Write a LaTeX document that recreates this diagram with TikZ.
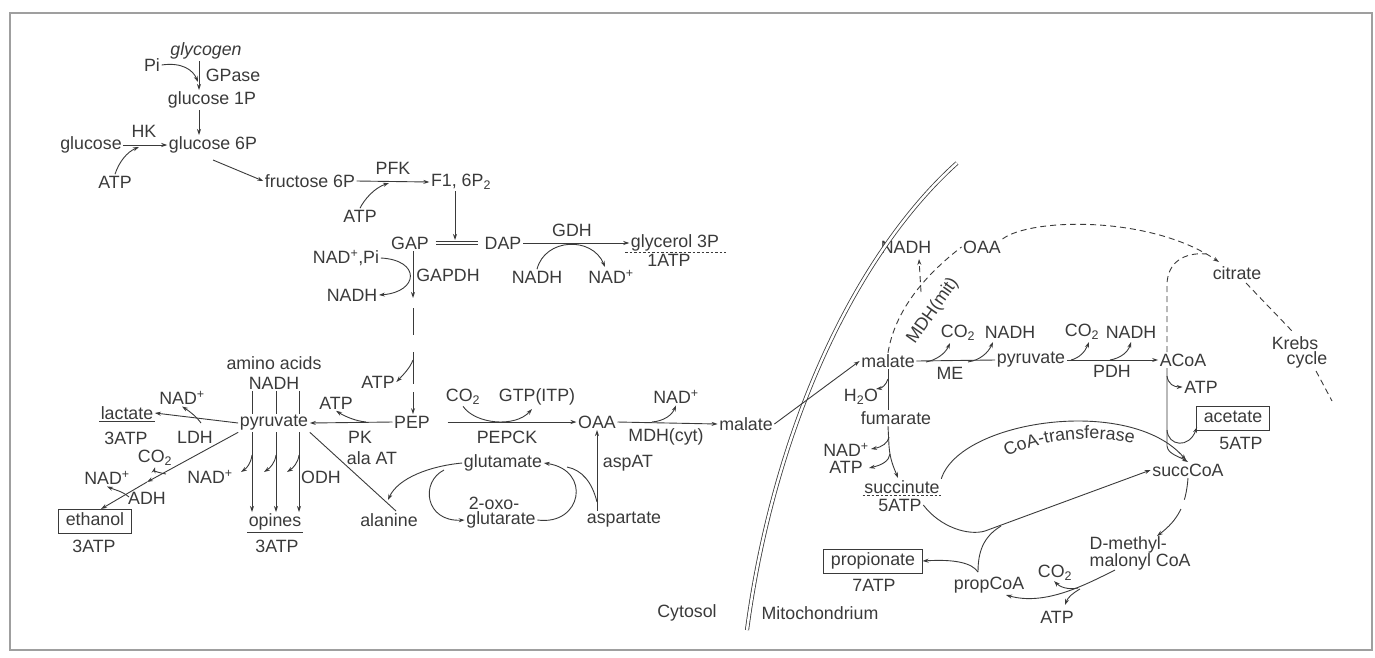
\documentclass[tikz,border=0pt]{standalone}
\usepackage{fontspec}
\setmainfont{Liberation Sans}
\usetikzlibrary{arrows.meta,decorations.text}
\definecolor{ink}{HTML}{3A3A3A}
\newcommand{\lbfont}{\fontsize{17.8}{19.5}\selectfont}

\begin{document}
\begin{tikzpicture}[x=1pt,y=-1pt,
  every node/.style={font=\lbfont, text=ink, inner sep=1.5pt},
  line/.style={draw=ink, line width=0.9pt},
  arr/.style={line, -{Stealth[length=6pt,width=4pt]}},
  dsh/.style={line, dash pattern=on 6pt off 4pt},
  dotrule/.style={draw=ink, line width=0.8pt, dash pattern=on 2.5pt off 2pt},
  box/.style={draw=ink, line width=1pt, inner xsep=7pt, inner ysep=4pt, text height=12pt, text depth=4pt},
  memb/.style={draw=ink, line width=0.8pt, double=white, double distance=2.5pt}]

\useasboundingbox (0,0) rectangle (1375,657);
\draw[draw=gray!75, line width=1.4pt] (10,13) rectangle (1372,650);

% ---------- glycolysis ----------
\node (glycogen) at (206,51) {\itshape glycogen};
\node (Pi) at (152,65) {Pi};
\node (GPase) at (233,75) {GPase};
\node (g1p) at (212,100) {glucose 1P};
\node (g6p) at (213,145) {glucose 6P};
\node (glc) at (91,145) {glucose};
\node (HK) at (144,131) {HK};
\node (atpA) at (115,182) {ATP};
\node (f6p) at (310,181) {fructose 6P};
\node (PFK) at (393,168) {PFK};
\node (atpB) at (360,216) {ATP};
\node (f16) at (461,182) {F1, 6P\textsubscript{2}};
\node (GAP) at (410,243) {GAP};
\node (DAP) at (503,243) {DAP};
\node (GDH) at (572,230) {GDH};
\node (nadhA) at (537,277) {NADH};
\node (nadA) at (611,277) {NAD\textsuperscript{+}};
\node (g3p) at (675,243) {glycerol 3P};
\node (atpC) at (669,260) {1ATP};
\node (nadpi) at (346,258) {NAD\textsuperscript{+},Pi};
\node (GAPDH) at (448,275) {GAPDH};
\node (nadhB) at (352,295) {NADH};
\node (atpD) at (378,382) {ATP};
\node (PEP) at (412,422) {PEP};
\node (atpE) at (336,403) {ATP};
\node (PK) at (360,437) {PK};
\node (co2A) at (463,397) {CO\textsubscript{2}};
\node (gtp) at (537,397) {GTP(ITP)};
\node (PEPCK) at (507,437) {PEPCK};
\node (oaaC) at (597,422) {OAA};
\node (nadB) at (676,397) {NAD\textsuperscript{+}};
\node (MDHc) at (666,437) {MDH(cyt)};
\node (malC) at (746,424) {malate};
\node (alaAT) at (372,458) {ala AT};
\node (ala) at (389,520) {alanine};
\node (glu) at (503,463) {glutamate};
\node (oxo) at (494,503) {2-oxo-};
\node (oxg) at (501,520) {glutarate};
\node (asp) at (624,520) {aspartate};
\node (aspAT) at (628,463) {aspAT};
\node (cyto) at (687,613) {Cytosol};
\node (mito) at (820,613) {Mitochondrium};

% ---------- pyruvate branch points ----------
\node (pyr) at (274,423) {pyruvate};
\node (amino) at (274,363) {amino acids};
\node (nadhC) at (274,383) {NADH};
\node (nadC) at (210,477) {NAD\textsuperscript{+}};
\node (ODH) at (321,477) {ODH};
\node (opines) at (275,522) {opines};
\node (atpF) at (277,546) {3ATP};
\node (lac) at (127,413) {lactate};
\node (atpG) at (126,438) {3ATP};
\node (nadD) at (182,398) {NAD\textsuperscript{+}};
\node (LDH) at (195,437) {LDH};
\node (co2B) at (155,458) {CO\textsubscript{2}};
\node (nadE) at (107,478) {NAD\textsuperscript{+}};
\node (ADH) at (147,498) {ADH};
\node[box] (eth) at (95,521) {ethanol};
\node (atpH) at (94,546) {3ATP};

% ---------- mitochondrion ----------
\node (nadhD) at (906,247) {NADH};
\node (oaaM) at (982,247) {OAA};
\node[rotate=55] (MDHm) at (933,311) {MDH(mit)};
\node (malM) at (888,361) {malate};
\node (co2C) at (958,333) {CO\textsubscript{2}};
\node (nadhE) at (1010,332) {NADH};
\node (ME) at (950,373) {ME};
\node (pyrM) at (1031,360) {pyruvate};
\node (co2D) at (1082,332) {CO\textsubscript{2}};
\node (nadhF) at (1131,332) {NADH};
\node (PDH) at (1112,371) {PDH};
\node (acoa) at (1183,360) {ACoA};
\node (cit) at (1237,273) {citrate};
\node (krebs) at (1295,343) {Krebs};
\node (cycle) at (1307,360) {cycle};
\node (atpI) at (1201,387) {ATP};
\node[box] (acet) at (1233,418) {acetate};
\node (atpJ) at (1241,443) {5ATP};
\node (h2o) at (861,397) {H\textsubscript{2}O};
\node (fum) at (896,418) {fumarate};
\node (nadF) at (846,450) {NAD\textsuperscript{+}};
\node (atpK) at (846,467) {ATP};
\node (succ) at (902,487) {succinute};
\node (atpL) at (900,505) {5ATP};
\node (scoa) at (1188,470) {succCoA};
\node[align=left, anchor=west] (dmm) at (1088,553) {D-methyl-\\[-2.5pt]malonyl CoA};
\node (co2E) at (1055,573) {CO\textsubscript{2}};
\node (atpM) at (1057,617) {ATP};
\node (pcoa) at (989,585) {propCoA};
\node[box] (prop) at (873,561) {propionate};
\node (atpN) at (874,585) {7ATP};

% ---------- helper coordinates ----------
\coordinate (gx) at (199,0);
\coordinate (fx) at (455,0);
\coordinate (gpx) at (413,0);
\coordinate (ax) at (1167,0);
\coordinate (mx) at (888,0);
\coordinate (ethmid) at (147,482);
\coordinate (jn) at (985,531);

% ---------- glycolysis connectors ----------
\draw[arr] (glycogen.south -| gx) -- (g1p.north -| gx);
\draw[arr] (Pi.east) .. controls (182,62) and (193,70) .. (198,82);
\draw[arr] (g1p.south -| gx) -- (g6p.north -| gx);
\draw[arr] (glc.east) -- (g6p.west);
\draw[arr] (atpA.north) .. controls (119,162) and (127,152) .. (139,147);
\draw[arr] (213,160) -- (f6p.west);
\draw[arr] (f6p.east) -- (f16.west);
\draw[arr] (atpB.north) .. controls (364,200) and (374,188) .. (389,183);
\draw[arr] (f16.south -| fx) -- (455,240);
\draw[memb, shorten <=5pt, shorten >=5pt] (GAP) -- (DAP);
\draw[arr] (DAP.east) -- (g3p.west);
\draw[arr] (nadhA.north) .. controls (545,238) and (592,236) .. (605,267);
\draw[dotrule] (625,252) -- (726,252);

\draw[arr] (GAP.south -| gpx) -- (413,298);
\draw[line] (413,308) -- (413,335);
\draw[line] (413,352) -- (413,384);
\draw[arr] (413,392) -- (PEP.north -| gpx);
\draw[arr] (nadpi.east) .. controls (421,260) and (419,292) .. (nadhB.east);
\draw[arr] (413,360) .. controls (410,368) and (403,375) .. (atpD.east);

\draw[arr] (PEP.west) -- (pyr.east);
\draw[arr] (366,422) .. controls (356,421) and (346,417) .. (atpE.south);
\draw[arr] ([xshift=16pt]PEP.east) -- (oaaC.west);
\draw[arr] (co2A.south) .. controls (475,424) and (515,428) .. (532,409);
\draw[arr] (oaaC.east) -- (malC.west);
\draw[arr] (652,422) .. controls (664,421) and (672,415) .. (nadB.south);

% transaminations
\draw[line] (pyr.south east) -- (396,511);
\draw[arr] (glu.west) .. controls (430,466) and (398,478) .. (388,500);
\draw[arr] (444,470) .. controls (420,482) and (425,522) .. (oxg.west);
\draw[arr] (oxg.east) .. controls (582,526) and (592,470) .. (glu.east);
\draw[line] (597,502) .. controls (592,482) and (582,470) .. (567,467);
\draw[arr] (asp.north -| oaaC) -- (oaaC.south);

% lactate, ethanol, opines
\draw[arr] (pyr.west) -- (lac.east);
\draw[line] (lac.south west) -- (lac.south east);
\draw[arr] (201,423) .. controls (196,416) and (189,411) .. (nadD.south);
\draw[arr] (pyr.south west) -- (ethmid);
\draw[arr] (ethmid) -- (101,509);
\draw[arr] (166,474) .. controls (160,473) and (154,471) .. (co2B.south);
\draw[arr] (129,497) .. controls (122,491) and (115,490) .. (nadE.south);
\foreach \x in {252,276,299} {
  \draw[line] (nadhC.south -| \x,0) -- (pyr.north -| \x,0);
  \draw[arr] (pyr.south -| \x,0) -- (opines.north -| \x,0);
}
\draw[arr] (252,455) .. controls (251,463) and (247,468) .. (241,472);
\draw[arr] (276,455) .. controls (275,463) and (270,468) .. (264,472);
\draw[arr] (299,455) .. controls (298,463) and (293,468) .. (287,472);
\draw[line] (opines.south west) -- (opines.south east);

% ---------- inner membrane ----------
\draw[memb] (957,163) .. controls (860,250) and (775,420) .. (747,630);
\draw[arr] (malC.east) -- (malM.west);

% ---------- mitochondrial connectors ----------
\draw[dsh] (malM.north) .. controls (893,322) and (912,285) .. (oaaM.west);
\draw[dsh, -{Stealth[length=6pt,width=4pt]}] (921,292) -- (919,259);
\draw[dsh, -{Stealth[length=6pt,width=4pt]}] (oaaM.north east) .. controls (1030,218) and (1150,215) .. (1219,262);
\draw[dsh] (acoa.north -| ax) -- (1167,285) .. controls (1167,262) and (1185,252) .. (1206,254);
\draw[dsh] (1246,283) -- (1292,331);
\draw[dsh] (1316,371) -- (1332,401);

\draw[line] (malM.east) -- (pyrM.west);
\draw[arr] (926,362) .. controls (936,360) and (945,354) .. (950,343);
\draw[arr] (968,362) .. controls (980,360) and (988,353) .. (993,342);
\draw[arr] (pyrM.east) -- (acoa.west);
\draw[arr] (1071,360) .. controls (1079,358) and (1085,352) .. (1089,342);
\draw[arr] (1110,360) .. controls (1121,358) and (1128,352) .. (1131,342);

\draw[arr] (acoa.south -| ax) -- (1167,446) .. controls (1168,454) and (1178,456) .. (scoa.north);
\draw[arr] (1167,376) .. controls (1168,384) and (1174,387) .. (atpI.west);
\draw[arr] (1167,430) .. controls (1168,446) and (1189,449) .. (1197,427);

\draw[line] (malM.south -| mx) -- (fum.north -| mx);
\draw[arr] (888,379) .. controls (886,385) and (882,388) .. (876,389);
\draw[arr] (fum.south -| mx) -- (889,446) .. controls (890,460) and (894,468) .. (898,478);
\draw[arr] (889,437) .. controls (888,443) and (882,447) .. (871,449);
\draw[arr] (890,454) .. controls (889,461) and (882,465) .. (869,468);
\draw[dotrule] (succ.south west) -- (succ.south east);

\draw[arr] (succ.north east) .. controls (960,420) and (1130,395) .. (1186,460);
\path[decorate, decoration={text along path, text color=ink, text align=center,
  text={|\lbfont|CoA-transferase}}]
  (995,466) .. controls (1022,440) and (1100,430) .. (1148,448);

\draw[line] (atpL.east) .. controls (940,527) and (968,536) .. (jn);
\draw[arr] (jn) -- (scoa.west);
\draw[line] (978,572) .. controls (978,552) and (983,537) .. (1001,526);
\draw[arr] (978,572) .. controls (972,563) and (955,559) .. (prop.east);

\draw[arr, dash pattern=on 22pt off 10pt on 60pt] (scoa.south) .. controls (1186,505) and (1178,520) .. (1157,536);
\draw[arr] (1115,570) .. controls (1085,585) and (1045,606) .. (1006,595);
\draw[arr] (1078,588) .. controls (1068,590) and (1060,587) .. (1054,581);
\draw[arr] (1080,589) .. controls (1073,593) and (1068,597) .. (1065,605);

\end{tikzpicture}
\end{document}
